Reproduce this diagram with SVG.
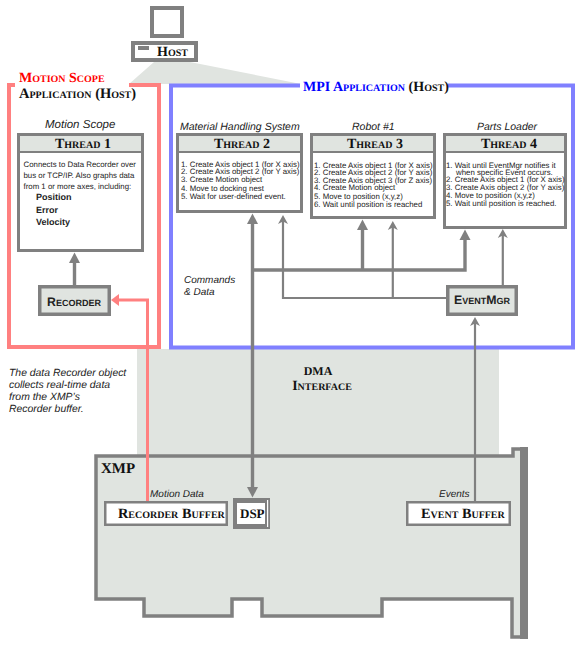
<svg xmlns="http://www.w3.org/2000/svg" width="577" height="648" viewBox="0 0 577 648" text-rendering="geometricPrecision">
<style>
.sc{font-family:"Liberation Serif","Times New Roman",serif;font-weight:bold;font-variant:small-caps;fill:#111}
.ss{font-family:"Liberation Sans",Arial,sans-serif;fill:#222}
.sb{font-size:7.850px}
.it{font-family:"Liberation Sans",Arial,sans-serif;font-style:italic;fill:#222}
.box{fill:#fff;stroke:#808080;stroke-width:3}
.hd{fill:#e0e4e0}
.obj{fill:#e0e4e0;stroke:#808080;stroke-width:3.5}
.buf{fill:#fff;stroke:#808080;stroke-width:2.5}
.fr{fill:none;stroke-width:4}
.g{fill:#808080}
.c{fill:none;stroke:#808080}
.th{stroke-width:3.4}
.tn{stroke-width:2.2}
</style>
<defs>
<marker id="big" markerUnits="userSpaceOnUse" markerWidth="12" markerHeight="14" refX="5" refY="6" orient="auto"><path d="M0,0.5L10.5,6L0,11.5z" fill="#808080"/></marker>
<marker id="small" markerUnits="userSpaceOnUse" markerWidth="12" markerHeight="14" refX="5" refY="6" orient="auto"><path d="M0,1L9,6L0,11L2.500,6z" fill="#808080"/></marker>
<marker id="pink" markerUnits="userSpaceOnUse" markerWidth="12" markerHeight="14" refX="4" refY="7" orient="auto"><path d="M0,1L8,7L0,13z" fill="#ff8080"/></marker>
</defs>

<g id="dma-interface">
<rect x="137" y="349" width="362" height="108" class="hd"/>
<text class="sc" font-size="12" text-anchor="middle" x="318" y="375">DMA</text>
<text class="sc" font-size="14" text-anchor="middle" x="322" y="390">Interface</text>
</g>
<polygon id="host-wedge" points="154,62 190,62 301,84 129,84" fill="#e0e4e0"/>

<g id="host">
<rect x="152" y="8" width="30" height="28" fill="#fff" stroke="#808080" stroke-width="4"/>
<rect x="133" y="43" width="63" height="17" fill="#fff" stroke="#808080" stroke-width="4"/>
<rect x="138" y="46" width="11" height="4" class="g"/>
<text class="sc" font-size="14" x="157" y="56">Host</text>
</g>

<g id="motion-scope-frame">
<path class="fr" stroke="#ff8080" d="M15,85H9V347H159V85H129"/>
<text class="sc" font-size="14" x="19" y="82" style="fill:#ff0000">Motion Scope</text>
<text class="sc" font-size="14.500" x="19" y="98">Application (Host)</text>
</g>
<g id="mpi-frame">
<path class="fr" stroke="#8080ff" d="M300,85.500H171V347.500H573V85.500H448"/>
<text class="sc" font-size="14" x="303" y="91"><tspan style="fill:#0000ff">MPI Application</tspan> (Host)</text>
</g>

<g id="xmp">
<path d="M96,456H513V449H526V637H512V599H382V616H262V599H232V616H144V599H96z" fill="#e0e4e0" stroke="#808080" stroke-width="3.500"/>
<rect x="520" y="447" width="8" height="192" class="g"/>
<text class="sc" font-size="15" x="101" y="473">XMP</text>
</g>

<g id="thread-1">
<text class="it" font-size="11.500" x="45" y="128">Motion Scope</text>
<rect class="box" x="18.500" y="134.500" width="124" height="116"/>
<rect class="hd" x="20" y="136" width="121" height="15"/>
<rect class="g" x="20" y="151" width="121" height="2"/>
<text class="sc" font-size="14" x="55" y="147.500">Thread 1</text>
<text class="ss sb" x="23.500" y="167">Connects to Data Recorder over</text>
<text class="ss sb" x="23.500" y="177.500">bus or TCP/IP. Also graphs data</text>
<text class="ss sb" x="23.500" y="188.500">from 1 or more axes, including:</text>
<text class="ss" font-size="9" font-weight="bold" x="36" y="200">Position</text>
<text class="ss" font-size="9" font-weight="bold" x="36" y="213">Error</text>
<text class="ss" font-size="9" font-weight="bold" x="36" y="225">Velocity</text>
</g>

<g id="thread-2">
<text class="it" font-size="10.500" x="180" y="130">Material Handling System</text>
<rect class="box" x="177.500" y="134.500" width="124" height="77"/>
<rect class="hd" x="179" y="136" width="121" height="15"/>
<rect class="g" x="179" y="151" width="121" height="2"/>
<text class="sc" font-size="14" x="214" y="147.500">Thread 2</text>
<text class="ss sb" x="181" y="167">1. Create Axis object 1 (for X axis)</text>
<text class="ss sb" x="181" y="174">2. Create Axis object 2 (for Y axis)</text>
<text class="ss sb" x="181" y="182">3. Create Motion object</text>
<text class="ss sb" x="181" y="191">4. Move to docking nest</text>
<text class="ss sb" x="181" y="199">5. Wait for user-defined event.</text>
</g>

<g id="thread-3">
<text class="it" font-size="10.500" x="352" y="130">Robot #1</text>
<rect class="box" x="311.500" y="134.500" width="123" height="83"/>
<rect class="hd" x="313" y="136" width="120" height="15"/>
<rect class="g" x="313" y="151" width="120" height="2"/>
<text class="sc" font-size="14" x="347" y="147.500">Thread 3</text>
<text class="ss sb" x="314" y="168">1. Create Axis object 1 (for X axis)</text>
<text class="ss sb" x="314" y="175">2. Create Axis object 2 (for Y axis)</text>
<text class="ss sb" x="314" y="182.500">3. Create Axis object 3 (for Z axis)</text>
<text class="ss sb" x="314" y="190">4. Create Motion object</text>
<text class="ss sb" x="314" y="198.500">5. Move to position (x,y,z)</text>
<text class="ss sb" x="314" y="206.500">6. Wait until position is reached</text>
</g>

<g id="thread-4">
<text class="it" font-size="10.500" x="477" y="130">Parts Loader</text>
<rect class="box" x="444.500" y="134.500" width="121" height="93"/>
<rect class="hd" x="446" y="136" width="118" height="15"/>
<rect class="g" x="446" y="151" width="118" height="2"/>
<text class="sc" font-size="14" x="481" y="147.500">Thread 4</text>
<text class="ss sb" x="446" y="168">1. Wait until EventMgr notifies it</text>
<text class="ss sb" x="456" y="175">when specific Event occurs.</text>
<text class="ss sb" x="446" y="182">2. Create Axis object 1 (for X axis)</text>
<text class="ss sb" x="446" y="190">3. Create Axis object 2 (for Y axis)</text>
<text class="ss sb" x="446" y="198">4. Move to position (x,y,z)</text>
<text class="ss sb" x="446" y="206">5. Wait until position is reached.</text>
</g>

<g id="recorder">
<rect class="obj" x="39.750" y="286.750" width="69.500" height="27.500"/>
<text class="ss" font-size="12.300" font-weight="bold" font-variant="small-caps" x="47" y="306">Recorder</text>
</g>
<g id="eventmgr">
<rect class="obj" x="447.750" y="286.750" width="68.500" height="27.500"/>
<text class="ss" font-size="12.300" font-weight="bold" font-variant="small-caps" x="454" y="304">EventMgr</text>
</g>

<g id="recorder-buffer">
<rect class="buf" x="105.250" y="502.250" width="121.500" height="22.500"/>
<text class="sc" font-size="14.300" x="118" y="517.500">Recorder Buffer</text>
</g>
<g id="dsp">
<rect class="g" x="233" y="498" width="37" height="31"/>
<rect x="237" y="503" width="28" height="21" fill="#fff"/>
<rect x="267" y="500" width="1.200" height="27" fill="#fff"/>
<text class="sc" font-size="13" x="240" y="517.500">DSP</text>
</g>
<g id="event-buffer">
<rect class="buf" x="407.250" y="502.250" width="102.500" height="22.500"/>
<text class="sc" font-size="14.300" x="421" y="517.500">Event Buffer</text>
</g>

<g id="connectors">
<path class="c th" d="M74.500,285V258" marker-end="url(#big)"/>
<path class="c th" d="M252.500,270V219" marker-end="url(#big)"/>
<path class="c th" d="M252.500,270V492" marker-end="url(#big)"/>
<path class="c th" d="M252.500,270H465V235" marker-end="url(#big)"/>
<path class="c th" d="M362.500,270V225" marker-end="url(#big)"/>
<path class="c tn" d="M446,298H283V219" marker-end="url(#small)"/>
<path class="c tn" d="M392.800,298V225" marker-end="url(#small)"/>
<path class="c tn" d="M502.800,285V233" marker-end="url(#small)"/>
<path class="c tn" d="M475,501V321" marker-end="url(#small)"/>
<path d="M147.500,501V300H115" fill="none" stroke="#ff8080" stroke-width="3" marker-end="url(#pink)"/>
</g>

<g id="labels">
<text class="it" font-size="10" x="184" y="283">Commands</text>
<text class="it" font-size="10" x="184" y="295">&amp; Data</text>
<text class="it" font-size="10.400" x="9" y="376">The data Recorder object</text>
<text class="it" font-size="10.400" x="9" y="388">collects real-time data</text>
<text class="it" font-size="10.400" x="9" y="400">from the XMP’s</text>
<text class="it" font-size="10.400" x="9" y="412">Recorder buffer.</text>
<text class="it" font-size="10" x="150" y="497">Motion Data</text>
<text class="it" font-size="10" x="439" y="497">Events</text>
</g>
</svg>
